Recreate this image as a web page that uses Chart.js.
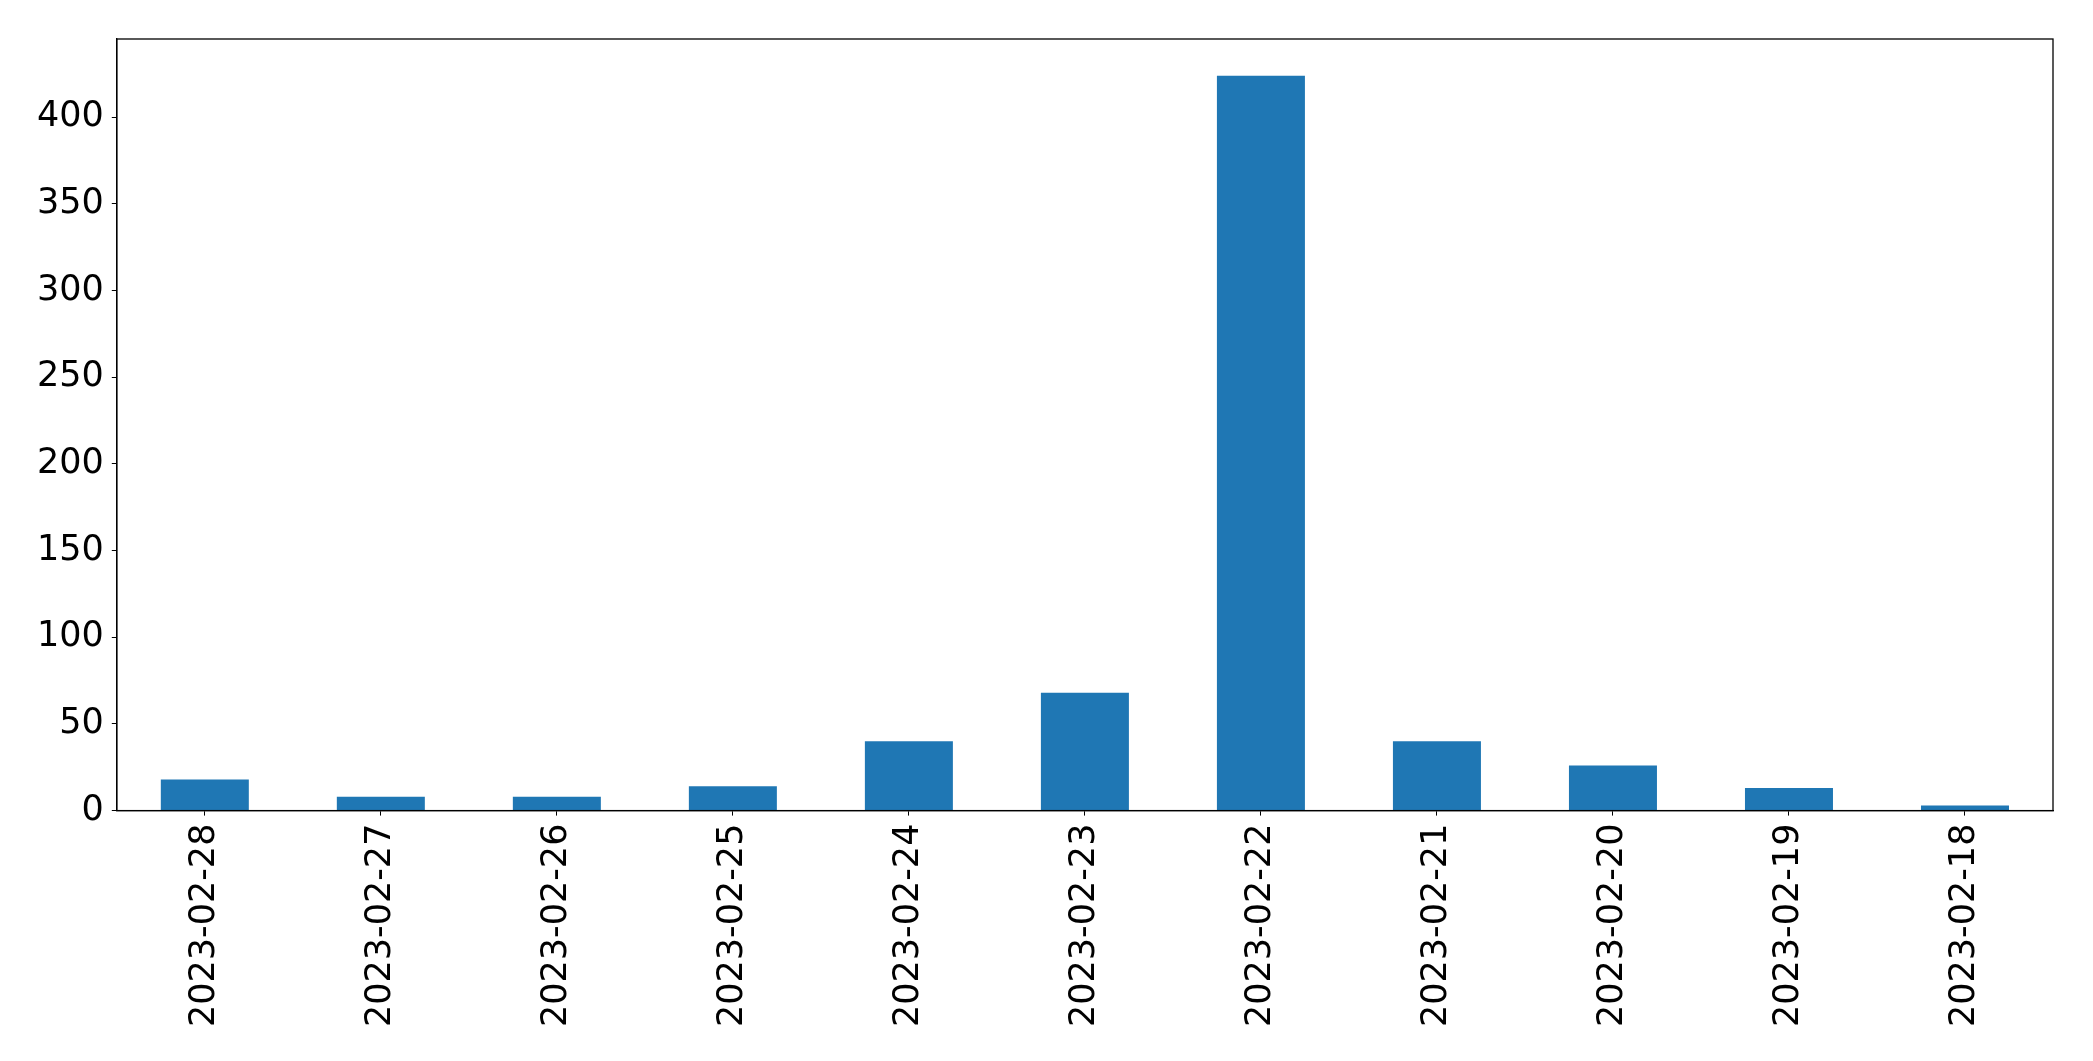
<!DOCTYPE html>
<html>
<head>
<meta charset="utf-8">
<script src="https://cdn.jsdelivr.net/npm/chart.js@4.4.1/dist/chart.umd.min.js"></script>
<style>
  html, body { margin:0; padding:0; background:#fff; }
  #wrap { width:2093px; height:1061px; position:relative; }
</style>
</head>
<body>
<div id="wrap"><canvas id="c"></canvas></div>
<script>
'use strict';

// ── data
const dates  = ['2023-02-28','2023-02-27','2023-02-26','2023-02-25','2023-02-24','2023-02-23',
                '2023-02-22','2023-02-21','2023-02-20','2023-02-19','2023-02-18'];
const counts = [18, 8, 8, 14, 40, 68, 424, 40, 26, 13, 3];
const yTicks = [0, 50, 100, 150, 200, 250, 300, 350, 400];

const FONT = { family:'"DejaVu Sans", sans-serif', size:35 };

// full box frame like matplotlib spines
const frame = {
  id:'frame',
  afterDraw(chart) {
    const a = chart.chartArea, ctx = chart.ctx;
    ctx.save();
    ctx.strokeStyle = '#000';
    ctx.lineWidth = 1.3;
    ctx.strokeRect(a.left, a.top, a.right - a.left, a.bottom - a.top);
    ctx.restore();
  }
};

new Chart(document.getElementById('c'), {
  type:'bar',
  data:{ labels:dates, datasets:[{ data:counts, backgroundColor:'#1f77b4', barPercentage:0.5, categoryPercentage:1.0 }] },
  options:{
    responsive:true, maintainAspectRatio:false, animation:false,
    layout:{ padding:{ left:29, right:40, top:39, bottom:26 } },
    plugins:{ legend:{ display:false }, tooltip:{ enabled:false } },
    scales:{
      x:{
        offset:true,
        grid:{ display:true, drawOnChartArea:false, drawTicks:true, tickLength:5, color:'#000', offset:false },
        border:{ display:true, color:'#000', width:1.3 },
        ticks:{ color:'#000', font:FONT, minRotation:90, maxRotation:90, autoSkip:false, padding:8 }
      },
      y:{
        min:0, max:Math.max(...counts) * 1.05,
        afterBuildTicks: s => { s.ticks = yTicks.map(v => ({ value:v })); },
        grid:{ display:true, drawOnChartArea:false, drawTicks:true, tickLength:5, color:'#000' },
        border:{ display:true, color:'#000', width:1.3 },
        ticks:{ color:'#000', font:FONT, padding:8 }
      }
    }
  },
  plugins:[frame]
});
</script>
</body>
</html>
